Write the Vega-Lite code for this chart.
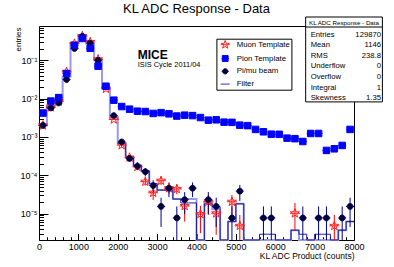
{
  "$schema": "https://vega.github.io/schema/vega-lite/v6.json",
  "width": 315,
  "height": 214,
  "autosize": "none",
  "padding": {"left": 39, "top": 26, "right": 40, "bottom": 27},
  "background": "white",
  "datasets": {
    "histL": [
      {"edge": 0, "v": 0.002}, {"edge": 200, "v": 0.0067}, {"edge": 400, "v": 0.009}, {"edge": 600, "v": 0.037},
      {"edge": 800, "v": 0.28}, {"edge": 1000, "v": 0.44}, {"edge": 1200, "v": 0.27}, {"edge": 1400, "v": 0.1},
      {"edge": 1600, "v": 0.019}, {"edge": 1800, "v": 0.0033}, {"edge": 2000, "v": 0.00068}, {"edge": 2200, "v": 0.0003},
      {"edge": 2400, "v": 0.00018}, {"edge": 2600, "v": 0.00013}, {"edge": 2800, "v": 0.00006}, {"edge": 3000, "v": 0.000041},
      {"edge": 3200, "v": 0.000041}, {"edge": 3400, "v": 0.000024}, {"edge": 3600, "v": 0.000024}, {"edge": 3800, "v": 0.000024},
      {"edge": 4000, "v": 0}, {"edge": 4200, "v": 0.00002}, {"edge": 4400, "v": 0.000013}, {"edge": 4600, "v": 0},
      {"edge": 4800, "v": 0.0000062}, {"edge": 5000, "v": 0.000018}, {"edge": 5200, "v": 0}, {"edge": 5400, "v": 0},
      {"edge": 5600, "v": 0}, {"edge": 5800, "v": 0}, {"edge": 6000, "v": 0}, {"edge": 6200, "v": 0},
      {"edge": 6400, "v": 0.0000037}, {"edge": 6600, "v": 0}, {"edge": 6800, "v": 0}, {"edge": 7000, "v": 0},
      {"edge": 7200, "v": 0}, {"edge": 7400, "v": 0}, {"edge": 7600, "v": 0.0000037}, {"edge": 7800, "v": 0.0000062},
      {"edge": 8000, "v": 0.0000062}
    ],
    "histN": [
      {"edge": 2000, "v": 0.00068}, {"edge": 2200, "v": 0.0003}, {"edge": 2400, "v": 0.00018}, {"edge": 2600, "v": 0.00013},
      {"edge": 2800, "v": 0.00006}, {"edge": 3000, "v": 0.000041}, {"edge": 3200, "v": 0.000041}, {"edge": 3400, "v": 0.000024},
      {"edge": 3600, "v": 0.000019}, {"edge": 3800, "v": 0.000019}, {"edge": 4000, "v": 0}, {"edge": 4200, "v": 0.000018},
      {"edge": 4400, "v": 0.000015}, {"edge": 4600, "v": 0}, {"edge": 4800, "v": 0.0000062}, {"edge": 5000, "v": 0.000018},
      {"edge": 5200, "v": 0}, {"edge": 5400, "v": 0}, {"edge": 5600, "v": 0.0000029}, {"edge": 5800, "v": 0.0000029},
      {"edge": 6000, "v": 0}, {"edge": 6200, "v": 0}, {"edge": 6400, "v": 0.0000037}, {"edge": 6600, "v": 0.0000029},
      {"edge": 6800, "v": 0}, {"edge": 7000, "v": 0.0000029}, {"edge": 7200, "v": 0.0000029}, {"edge": 7400, "v": 0},
      {"edge": 7600, "v": 0.0000037}, {"edge": 7800, "v": 0.0000062}, {"edge": 8000, "v": 0.0000062}
    ],
    "pts": [
      {"series": "Muon Template", "x": 100, "v": 0.002},
      {"series": "Muon Template", "x": 300, "v": 0.0059},
      {"series": "Muon Template", "x": 500, "v": 0.0084},
      {"series": "Muon Template", "x": 700, "v": 0.0497},
      {"series": "Muon Template", "x": 900, "v": 0.272},
      {"series": "Muon Template", "x": 1100, "v": 0.43},
      {"series": "Muon Template", "x": 1300, "v": 0.3},
      {"series": "Muon Template", "x": 1500, "v": 0.106},
      {"series": "Muon Template", "x": 1700, "v": 0.018},
      {"series": "Muon Template", "x": 1900, "v": 0.00285},
      {"series": "Muon Template", "x": 2100, "v": 0.00061, "lo": 0.00053, "hi": 0.0007},
      {"series": "Muon Template", "x": 2300, "v": 0.00029, "lo": 0.00024, "hi": 0.00034},
      {"series": "Muon Template", "x": 2500, "v": 0.000166, "lo": 0.000135, "hi": 0.0002},
      {"series": "Muon Template", "x": 2700, "v": 0.000068, "lo": 0.000054, "hi": 0.000084},
      {"series": "Muon Template", "x": 2900, "v": 0.000035, "lo": 0.0000226, "hi": 0.000049},
      {"series": "Muon Template", "x": 3100, "v": 0.000072, "lo": 0.000056, "hi": 0.000088},
      {"series": "Muon Template", "x": 3300, "v": 0.000046, "lo": 0.000033, "hi": 0.00006},
      {"series": "Muon Template", "x": 3500, "v": 0.000044, "lo": 0.000032, "hi": 0.000058},
      {"series": "Muon Template", "x": 3700, "v": 0.0000158, "lo": 0.0000062, "hi": 0.0000226},
      {"series": "Muon Template", "x": 4100, "v": 0.0000098, "lo": 0.0000031, "hi": 0.000016},
      {"series": "Muon Template", "x": 4300, "v": 0.0000204, "lo": 0.0000092, "hi": 0.0000305},
      {"series": "Muon Template", "x": 4500, "v": 0.0000102, "lo": 0.0000028, "hi": 0.000016},
      {"series": "Muon Template", "x": 4900, "v": 0.0000204, "lo": 0.0000062, "hi": 0.0000305},
      {"series": "Muon Template", "x": 5100, "v": 0.0000048, "lo": 0, "hi": 0.0000092},
      {"series": "Muon Template", "x": 6500, "v": 0.0000102, "lo": 0.0000037, "hi": 0.000019},
      {"series": "Muon Template", "x": 7500, "v": 0.0000048, "lo": 0, "hi": 0.0000092},
      {"series": "Pi/mu beam", "x": 100, "v": 0.002},
      {"series": "Pi/mu beam", "x": 300, "v": 0.0057},
      {"series": "Pi/mu beam", "x": 500, "v": 0.0077},
      {"series": "Pi/mu beam", "x": 700, "v": 0.0314},
      {"series": "Pi/mu beam", "x": 900, "v": 0.202},
      {"series": "Pi/mu beam", "x": 1100, "v": 0.42},
      {"series": "Pi/mu beam", "x": 1300, "v": 0.28},
      {"series": "Pi/mu beam", "x": 1500, "v": 0.1},
      {"series": "Pi/mu beam", "x": 1700, "v": 0.021},
      {"series": "Pi/mu beam", "x": 1900, "v": 0.0036},
      {"series": "Pi/mu beam", "x": 2100, "v": 0.00074, "lo": 0.00066, "hi": 0.00082},
      {"series": "Pi/mu beam", "x": 2300, "v": 0.000275, "lo": 0.00023, "hi": 0.00032},
      {"series": "Pi/mu beam", "x": 2500, "v": 0.000174, "lo": 0.000137, "hi": 0.00021},
      {"series": "Pi/mu beam", "x": 2700, "v": 0.000124, "lo": 0.000093, "hi": 0.000155},
      {"series": "Pi/mu beam", "x": 2900, "v": 0.000054, "lo": 0.0000335, "hi": 0.000074},
      {"series": "Pi/mu beam", "x": 3100, "v": 0.0000154, "lo": 0.0000045, "hi": 0.000026},
      {"series": "Pi/mu beam", "x": 3300, "v": 0.000046, "lo": 0.000027, "hi": 0.000065},
      {"series": "Pi/mu beam", "x": 3500, "v": 0.0000077, "lo": 0, "hi": 0.0000154},
      {"series": "Pi/mu beam", "x": 3700, "v": 0.0000231, "lo": 0.0000098, "hi": 0.0000364},
      {"series": "Pi/mu beam", "x": 3900, "v": 0.000046, "lo": 0.000027, "hi": 0.000065},
      {"series": "Pi/mu beam", "x": 4300, "v": 0.0000231, "lo": 0.0000098, "hi": 0.0000364},
      {"series": "Pi/mu beam", "x": 4500, "v": 0.0000154, "lo": 0.0000045, "hi": 0.000026},
      {"series": "Pi/mu beam", "x": 4900, "v": 0.0000077, "lo": 0, "hi": 0.0000154},
      {"series": "Pi/mu beam", "x": 5100, "v": 0.0000385, "lo": 0.0000213, "hi": 0.0000557},
      {"series": "Pi/mu beam", "x": 5700, "v": 0.0000077, "lo": 0, "hi": 0.0000154},
      {"series": "Pi/mu beam", "x": 5900, "v": 0.0000077, "lo": 0, "hi": 0.0000154},
      {"series": "Pi/mu beam", "x": 6700, "v": 0.0000077, "lo": 0, "hi": 0.0000154},
      {"series": "Pi/mu beam", "x": 7100, "v": 0.0000077, "lo": 0, "hi": 0.0000154},
      {"series": "Pi/mu beam", "x": 7300, "v": 0.0000077, "lo": 0, "hi": 0.0000154},
      {"series": "Pi/mu beam", "x": 7700, "v": 0.0000077, "lo": 0, "hi": 0.0000154},
      {"series": "Pi/mu beam", "x": 7900, "v": 0.0000154, "lo": 0.0000045, "hi": 0.000026},
      {"series": "Pion Template", "x": 100, "v": 0.0042},
      {"series": "Pion Template", "x": 300, "v": 0.0086},
      {"series": "Pion Template", "x": 500, "v": 0.0106},
      {"series": "Pion Template", "x": 700, "v": 0.045},
      {"series": "Pion Template", "x": 900, "v": 0.246},
      {"series": "Pion Template", "x": 1100, "v": 0.37},
      {"series": "Pion Template", "x": 1300, "v": 0.205},
      {"series": "Pion Template", "x": 1500, "v": 0.07},
      {"series": "Pion Template", "x": 1700, "v": 0.021},
      {"series": "Pion Template", "x": 1900, "v": 0.0091},
      {"series": "Pion Template", "x": 2100, "v": 0.0062},
      {"series": "Pion Template", "x": 2300, "v": 0.0053},
      {"series": "Pion Template", "x": 2500, "v": 0.0047},
      {"series": "Pion Template", "x": 2700, "v": 0.0046},
      {"series": "Pion Template", "x": 2900, "v": 0.0041},
      {"series": "Pion Template", "x": 3100, "v": 0.0043},
      {"series": "Pion Template", "x": 3300, "v": 0.004},
      {"series": "Pion Template", "x": 3500, "v": 0.0035},
      {"series": "Pion Template", "x": 3700, "v": 0.0037},
      {"series": "Pion Template", "x": 3900, "v": 0.0036},
      {"series": "Pion Template", "x": 4100, "v": 0.0032},
      {"series": "Pion Template", "x": 4300, "v": 0.00274},
      {"series": "Pion Template", "x": 4500, "v": 0.0028},
      {"series": "Pion Template", "x": 4700, "v": 0.00243},
      {"series": "Pion Template", "x": 4900, "v": 0.0024},
      {"series": "Pion Template", "x": 5100, "v": 0.00203},
      {"series": "Pion Template", "x": 5300, "v": 0.00197},
      {"series": "Pion Template", "x": 5500, "v": 0.00157},
      {"series": "Pion Template", "x": 5700, "v": 0.00136},
      {"series": "Pion Template", "x": 5900, "v": 0.00118},
      {"series": "Pion Template", "x": 6100, "v": 0.00117},
      {"series": "Pion Template", "x": 6300, "v": 0.00093},
      {"series": "Pion Template", "x": 6500, "v": 0.0009},
      {"series": "Pion Template", "x": 6700, "v": 0.00076},
      {"series": "Pion Template", "x": 6900, "v": 0.00123},
      {"series": "Pion Template", "x": 7100, "v": 0.00123},
      {"series": "Pion Template", "x": 7300, "v": 0.000445},
      {"series": "Pion Template", "x": 7500, "v": 0.00049},
      {"series": "Pion Template", "x": 7700, "v": 0.0006},
      {"series": "Pion Template", "x": 7900, "v": 0.00157}
    ]
  },
  "layer": [
    {
      "layer": [
        {
          "data": {"name": "histL"},
          "mark": {"type": "line", "interpolate": "step-after", "stroke": "#9a9ae6", "strokeWidth": 2, "invalid": "show"},
          "encoding": {
            "x": {"field": "edge", "type": "quantitative", "scale": {"domain": [0, 8000], "nice": false, "zero": false},
              "axis": {"orient": "bottom", "values": [0, 1000, 2000, 3000, 4000, 5000, 6000, 7000, 8000], "format": "d", "ticks": false, "labelFontSize": 9, "labelPadding": 2, "labelFlush": false, "labelOverlap": false, "title": "KL ADC Product (counts)", "titleFontSize": 8.5, "titleX": 315, "titleY": 18.5, "titleAlign": "right", "titleBaseline": "alphabetic"}},
            "y": {"field": "v", "type": "quantitative", "scale": {"type": "log", "domain": [0.00000205, 0.782], "nice": false, "clamp": true},
              "axis": {"orient": "left", "values": [0.00001, 0.0001, 0.001, 0.01, 0.1], "ticks": false, "labelFontSize": 9, "labelPadding": 2, "labelOverlap": false, "labelExpr": "datum.value > 0.05 ? '10⁻¹' : datum.value > 0.005 ? '10⁻²' : datum.value > 0.0005 ? '10⁻³' : datum.value > 0.00005 ? '10⁻⁴' : '10⁻⁵'", "title": "entries", "titleFontSize": 8, "titleX": -21, "titleY": 1, "titleAngle": -90, "titleAlign": "right", "titleBaseline": "middle"}}
          }
        },
        {
          "data": {"name": "histN"},
          "mark": {"type": "line", "interpolate": "step-after", "stroke": "#1e1e9e", "strokeWidth": 1, "invalid": "show"},
          "encoding": {
            "x": {"field": "edge", "type": "quantitative", "scale": {"domain": [0, 8000], "nice": false, "zero": false},
              "axis": {"orient": "bottom", "values": [0, 1000, 2000, 3000, 4000, 5000, 6000, 7000, 8000], "labels": false, "ticks": true, "tickSize": -6.5, "tickColor": "black", "title": null}},
            "y": {"field": "v", "type": "quantitative", "scale": {"type": "log", "domain": [0.00000205, 0.782], "nice": false, "clamp": true},
              "axis": {"orient": "left", "values": [0.00001, 0.0001, 0.001, 0.01, 0.1], "labels": false, "ticks": true, "tickSize": -9, "tickColor": "black", "title": null}}
          }
        },
        {
          "data": {"name": "pts"},
          "transform": [{"filter": "datum.series === 'Muon Template' && isValid(datum.hi)"}],
          "mark": {"type": "rule", "stroke": "#ff0000", "strokeWidth": 1, "invalid": "show"},
          "encoding": {
            "x": {"field": "x", "type": "quantitative", "scale": {"domain": [0, 8000], "nice": false, "zero": false},
              "axis": {"orient": "bottom", "values": [200, 400, 600, 800, 1200, 1400, 1600, 1800, 2200, 2400, 2600, 2800, 3200, 3400, 3600, 3800, 4200, 4400, 4600, 4800, 5200, 5400, 5600, 5800, 6200, 6400, 6600, 6800, 7200, 7400, 7600, 7800], "labels": false, "ticks": true, "tickSize": -3.3, "tickColor": "black", "title": null}},
            "y": {"field": "lo", "type": "quantitative", "scale": {"type": "log", "domain": [0.00000205, 0.782], "nice": false, "clamp": true},
              "axis": {"orient": "left", "values": [0.000003, 0.000004, 0.000005, 0.000006, 0.000007, 0.000008, 0.000009, 0.00002, 0.00003, 0.00004, 0.00005, 0.00006, 0.00007, 0.00008, 0.00009, 0.0002, 0.0003, 0.0004, 0.0005, 0.0006, 0.0007, 0.0008, 0.0009, 0.002, 0.003, 0.004, 0.005, 0.006, 0.007, 0.008, 0.009, 0.02, 0.03, 0.04, 0.05, 0.06, 0.07, 0.08, 0.09, 0.2, 0.3, 0.4, 0.5, 0.6, 0.7], "labels": false, "ticks": true, "tickSize": -4.5, "tickColor": "black", "title": null}},
            "y2": {"field": "hi"}
          }
        },
        {
          "data": {"name": "pts"},
          "transform": [{"filter": "datum.series === 'Pi/mu beam' && isValid(datum.hi)"}],
          "mark": {"type": "rule", "stroke": "#000080", "strokeWidth": 1, "invalid": "show"},
          "encoding": {
            "x": {"field": "x", "type": "quantitative", "scale": {"domain": [0, 8000], "nice": false, "zero": false}, "axis": null},
            "y": {"field": "lo", "type": "quantitative", "scale": {"type": "log", "domain": [0.00000205, 0.782], "nice": false, "clamp": true}, "axis": null},
            "y2": {"field": "hi"}
          }
        },
        {
          "data": {"name": "pts"},
          "mark": {"type": "point", "filled": true, "opacity": 1, "size": 100, "strokeWidth": 1},
          "encoding": {
            "x": {"field": "x", "type": "quantitative", "scale": {"domain": [0, 8000], "nice": false, "zero": false}, "axis": null},
            "y": {"field": "v", "type": "quantitative", "scale": {"type": "log", "domain": [0.00000205, 0.782], "nice": false, "clamp": true}, "axis": null},
            "shape": {"field": "series", "type": "nominal",
              "scale": {"domain": ["Muon Template", "Pion Template", "Pi/mu beam", "Filter"],
                "range": ["M0,-0.95L0.223,-0.308L0.903,-0.294L0.361,0.118L0.559,0.769L0,0.38L-0.559,0.769L-0.361,0.118L-0.903,-0.294L-0.223,-0.308ZM-1,0H1",
                          "M-0.65,-0.65H0.65V0.65H-0.65ZM-0.8,0H0.8",
                          "M0.58,0C0.58,0.32,0.32,0.58,0,0.58C-0.32,0.58,-0.58,0.32,-0.58,0C-0.58,-0.32,-0.32,-0.58,0,-0.58C0.32,-0.58,0.58,-0.32,0.58,0ZM-0.8,0H0.8",
                          "M-1,0H1"]},
              "legend": {"orient": "none", "legendX": 177.4, "legendY": 12.7, "title": null, "fillColor": "white", "strokeColor": "black", "padding": 1, "rowPadding": 2.8, "symbolSize": 81, "symbolStrokeWidth": 1, "symbolOffset": 2.8, "labelOffset": 6.5, "labelFont": "Liberation Sans", "labelFontSize": 7.8, "labelColor": "black"}},
            "fill": {"field": "series", "type": "nominal",
              "scale": {"domain": ["Muon Template", "Pion Template", "Pi/mu beam", "Filter"], "range": ["rgba(0,0,0,0)", "#0000ff", "#000000", "rgba(0,0,0,0)"]},
              "legend": {"orient": "none", "legendX": 177.4, "legendY": 12.7, "title": null, "fillColor": "white", "strokeColor": "black", "padding": 1, "rowPadding": 2.8, "symbolSize": 81, "symbolStrokeWidth": 1, "symbolOffset": 2.8, "labelOffset": 6.5, "labelFont": "Liberation Sans", "labelFontSize": 7.8, "labelColor": "black"}},
            "stroke": {"field": "series", "type": "nominal",
              "scale": {"domain": ["Muon Template", "Pion Template", "Pi/mu beam", "Filter"], "range": ["#ff2020", "#0000ff", "#000080", "#3030d0"]},
              "legend": {"orient": "none", "legendX": 177.4, "legendY": 12.7, "title": null, "fillColor": "white", "strokeColor": "black", "padding": 1, "rowPadding": 2.8, "symbolSize": 81, "symbolStrokeWidth": 1, "symbolOffset": 2.8, "labelOffset": 6.5, "labelFont": "Liberation Sans", "labelFontSize": 7.8, "labelColor": "black"}}
          }
        },
        {
          "data": {"values": [{}]},
          "mark": {"type": "text", "text": "MICE", "font": "Liberation Sans", "fontSize": 12, "fontWeight": "bold", "align": "left", "baseline": "alphabetic", "color": "black"},
          "encoding": {
            "x": {"datum": 2507, "type": "quantitative", "scale": {"domain": [0, 8000], "nice": false, "zero": false}, "axis": null},
            "y": {"datum": 0.11, "type": "quantitative", "scale": {"type": "log", "domain": [0.00000205, 0.782], "nice": false, "clamp": true}, "axis": null}
          }
        },
        {
          "data": {"values": [{}]},
          "mark": {"type": "text", "text": "ISIS Cycle 2011/04", "font": "Liberation Sans", "fontSize": 7.4, "align": "left", "baseline": "alphabetic", "color": "black"},
          "encoding": {
            "x": {"datum": 2507, "type": "quantitative", "scale": {"domain": [0, 8000], "nice": false, "zero": false}, "axis": null},
            "y": {"datum": 0.066, "type": "quantitative", "scale": {"type": "log", "domain": [0.00000205, 0.782], "nice": false, "clamp": true}, "axis": null}
          }
        }
      ],
      "resolve": {"axis": {"x": "independent", "y": "independent"}}
    },
    {
      "layer": [
        {
          "data": {"values": [{}]},
          "mark": {"type": "text", "text": "KL ADC Response - Data", "font": "Liberation Sans", "fontSize": 13, "align": "center", "baseline": "alphabetic", "color": "black"},
          "encoding": {
            "x": {"datum": 4000, "type": "quantitative", "scale": {"domain": [0, 8000], "nice": false, "zero": false}, "axis": null},
            "y": {"datum": 1.714, "type": "quantitative", "scale": {"type": "log", "domain": [0.00000205, 0.782], "nice": false}, "axis": null}
          }
        },
        {
          "data": {"values": [{}]},
          "mark": {"type": "rect", "fill": "white", "stroke": "black", "strokeWidth": 1},
          "encoding": {
            "x": {"datum": 6773, "type": "quantitative", "scale": {"domain": [0, 8000], "nice": false, "zero": false}, "axis": null},
            "x2": {"datum": 8721},
            "y": {"datum": 1.342, "type": "quantitative", "scale": {"type": "log", "domain": [0.00000205, 0.782], "nice": false}, "axis": null},
            "y2": {"datum": 0.0082}
          }
        },
        {
          "data": {"values": [{}]},
          "mark": {"type": "rule", "stroke": "black", "strokeWidth": 1},
          "encoding": {
            "x": {"datum": 6773, "type": "quantitative", "scale": {"domain": [0, 8000], "nice": false, "zero": false}, "axis": null},
            "x2": {"datum": 8721},
            "y": {"datum": 0.736, "type": "quantitative", "scale": {"type": "log", "domain": [0.00000205, 0.782], "nice": false}, "axis": null}
          }
        },
        {
          "data": {"values": [{}]},
          "mark": {"type": "text", "text": "KL ADC Response - Data", "font": "Liberation Sans", "fontSize": 6.2, "align": "center", "baseline": "alphabetic", "color": "black"},
          "encoding": {
            "x": {"datum": 7746, "type": "quantitative", "scale": {"domain": [0, 8000], "nice": false, "zero": false}, "axis": null},
            "y": {"datum": 0.851, "type": "quantitative", "scale": {"type": "log", "domain": [0.00000205, 0.782], "nice": false}, "axis": null}
          }
        },
        {
          "data": {"values": [{}]},
          "mark": {"type": "text", "text": ["Entries", "Mean", "RMS", "Underflow", "Overflow", "Integral", "Skewness"], "lineHeight": 10.6, "font": "Liberation Sans", "fontSize": 7.7, "align": "left", "baseline": "alphabetic", "color": "black"},
          "encoding": {
            "x": {"datum": 6900, "type": "quantitative", "scale": {"domain": [0, 8000], "nice": false, "zero": false}, "axis": null},
            "y": {"datum": 0.414, "type": "quantitative", "scale": {"type": "log", "domain": [0.00000205, 0.782], "nice": false}, "axis": null}
          }
        },
        {
          "data": {"values": [{}]},
          "mark": {"type": "text", "text": ["129870", "1146", "238.8", "0", "0", "1", "1.35"], "lineHeight": 10.6, "font": "Liberation Sans", "fontSize": 7.7, "align": "right", "baseline": "alphabetic", "color": "black"},
          "encoding": {
            "x": {"datum": 8686, "type": "quantitative", "scale": {"domain": [0, 8000], "nice": false, "zero": false}, "axis": null},
            "y": {"datum": 0.414, "type": "quantitative", "scale": {"type": "log", "domain": [0.00000205, 0.782], "nice": false}, "axis": null}
          }
        }
      ]
    }
  ],
  "resolve": {"scale": {"y": "independent"}, "axis": {"x": "independent", "y": "independent"}},
  "config": {
    "view": {"stroke": "black", "strokeWidth": 1},
    "font": "Liberation Sans",
    "axis": {"labelFont": "Liberation Sans", "titleFont": "Liberation Sans", "labelColor": "black", "titleColor": "black", "titleFontWeight": "normal", "tickColor": "black", "tickWidth": 1, "domain": false, "grid": false}
  }
}
